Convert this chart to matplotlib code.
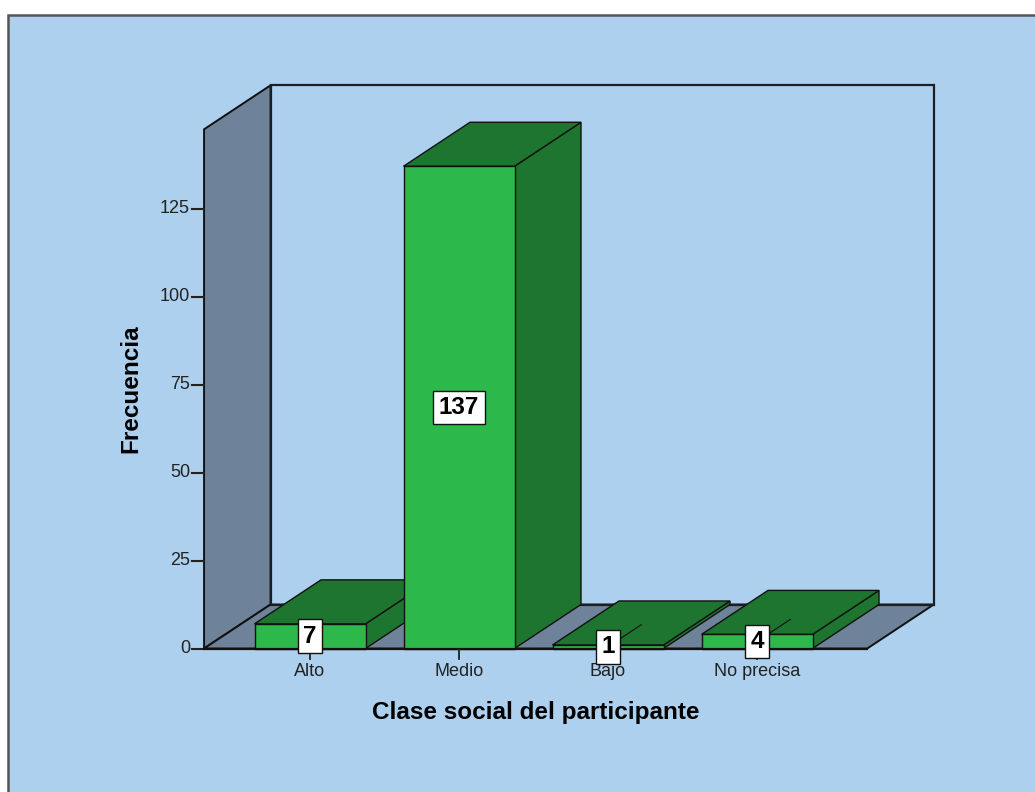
import numpy as np
import matplotlib
matplotlib.use("Agg")
import matplotlib.pyplot as plt
from matplotlib.patches import Polygon, Rectangle

plt.rcParams['font.family'] = ['Liberation Sans', 'DejaVu Sans']

# frecuencias por clase social
categorias = ['Alto', 'Medio', 'Bajo', 'No precisa']
frecuencias = [7, 137, 1, 4]
y_ticks = [0, 25, 50, 75, 100, 125]

# colores estilo SPSS
bg_col = '#ADD0EE'
wall_col = '#6E8399'
front_col = '#2DB84B'
dark_col = '#1E752F'
edge_col = '#111111'

# escala: pixeles por categoria / por unidad de frecuencia
W, H = 1035, 792
px_cat, px_freq = 149.0, 3.52
x_origin, y_origin = 310.0, 648.5

# profundidad 3D en unidades de datos
ddx = 66.5 / px_cat
ddy = 44.0 / px_freq
bar_w = 111.0 / px_cat
x_left, x_right = -0.711, 3.74
y_top = 147.5

fig = plt.figure(figsize=(W / 100, H / 100), dpi=100)
fig.patch.set_facecolor('white')
ax = fig.add_axes([0, 0, 1, 1])
ax.axis('off')
ax.set_xlim(-x_origin / px_cat, (W - x_origin) / px_cat)
ax.set_ylim((y_origin - H) / px_freq, y_origin / px_freq)

# marco del grafico
ax.add_patch(Rectangle((8 / W, -0.01), 1.0, (H - 15) / H + 0.01,
                       transform=fig.transFigure, facecolor=bg_col,
                       edgecolor='#555555', lw=1.8, zorder=0, clip_on=False))

# paredes y suelo
ax.add_patch(Polygon([(x_left, 0), (x_left, y_top), (x_left + ddx, y_top + ddy),
                      (x_left + ddx, ddy)], closed=True, facecolor=wall_col,
                     edgecolor=edge_col, lw=1.4, zorder=1))
ax.add_patch(Polygon([(x_left, 0), (x_right, 0), (x_right + ddx, ddy),
                      (x_left + ddx, ddy)], closed=True, facecolor=wall_col,
                     edgecolor=edge_col, lw=1.4, zorder=1))
ax.add_patch(Rectangle((x_left + ddx, ddy), x_right - x_left, y_top,
                       facecolor='none', edgecolor='#1a1f26', lw=1.6, zorder=1))

# barras 3D
for i, v in enumerate(frecuencias):
    z = 2 + i
    xa, xb = i - bar_w / 2, i + bar_w / 2
    side = [(xb, 0), (xb, v), (xb + ddx, v + ddy), (xb + ddx, ddy)]
    top = [(xa, v), (xb, v), (xb + ddx, v + ddy), (xa + ddx, v + ddy)]
    ax.add_patch(Polygon(side, closed=True, facecolor=dark_col, edgecolor=edge_col, lw=1.0, zorder=z))
    ax.add_patch(Polygon(top, closed=True, facecolor=dark_col, edgecolor=edge_col, lw=1.0, zorder=z))
    ax.add_patch(Rectangle((xa, 0), bar_w, v, facecolor=front_col, edgecolor=edge_col, lw=1.0, zorder=z))

# eje y
tick_len = 12.0 / px_cat
for t in y_ticks:
    ax.plot([x_left - tick_len, x_left], [t, t], color='#222222', lw=1.5, zorder=12)
    ax.text(x_left - tick_len - 2 / px_cat, t, str(t), ha='right', va='center',
            fontsize=13, color='#222222')

# eje x
ax.plot([x_left, x_right], [0, 0], color=edge_col, lw=1.6, zorder=12)
for i, c in enumerate(categorias):
    ax.plot([i, i], [0, -10 / px_freq], color='#222222', lw=1.3, zorder=12)
    ax.text(i, -23 / px_freq, c, ha='center', va='center', fontsize=13, color='#222222')

# etiquetas de valor (encima de las marcas del eje)
for i, v in enumerate(frecuencias):
    if v < ddy / 2:
        ax.plot([i, i + ddx / 2], [v / 2, v / 2 + ddy / 2], color=edge_col, lw=0.8, zorder=13)
    ax.text(i, v / 2, str(v), ha='center', va='center', fontsize=17.5, fontweight='bold',
            family=['Liberation Sans Narrow', 'Liberation Sans'], zorder=14,
            bbox=dict(boxstyle='square,pad=0.22', facecolor='white', edgecolor=edge_col, lw=1.0))

ax.text((x_left + x_right) / 2, -63.5 / px_freq, 'Clase social del participante',
        ha='center', va='center', fontsize=17.5, fontweight='bold')
ax.text(-179 / px_cat, y_top / 2, 'Frecuencia', ha='center', va='center',
        rotation=90, fontsize=17.5, fontweight='bold')

fig.savefig('out.png', dpi=100)
